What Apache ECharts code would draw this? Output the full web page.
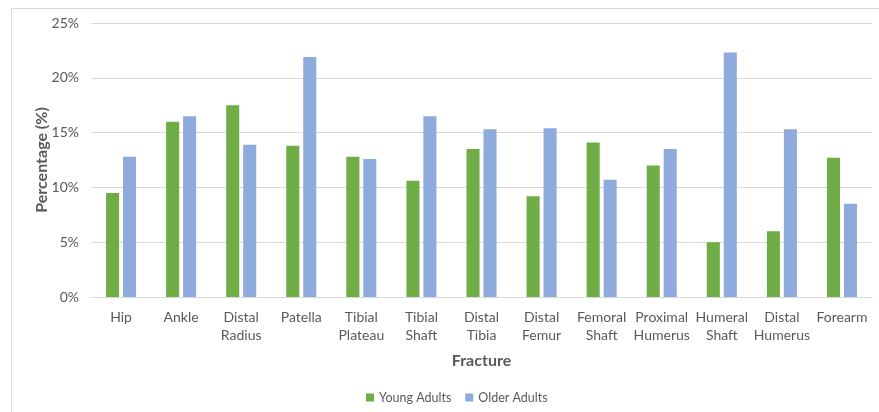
<!DOCTYPE html>
<html>
<head>
<meta charset="utf-8">
<script src="https://cdn.jsdelivr.net/npm/echarts@6/dist/echarts.min.js"></script>
<style>
html,body{margin:0;padding:0;background:#fff;}
#frame{position:absolute;left:11px;top:8px;width:880px;height:410px;border:1px solid #D9D9D9;box-sizing:border-box;}
#chart{position:absolute;left:0;top:0;width:879px;height:412px;}
</style>
</head>
<body>
<div id="frame"></div>
<div id="chart"></div>
<script>
const categories = ['Hip','Ankle','Distal\nRadius','Patella','Tibial\nPlateau','Tibial\nShaft','Distal\nTibia','Distal\nFemur','Femoral\nShaft','Proximal\nHumerus','Humeral\nShaft','Distal\nHumerus','Forearm'];
const youngAdults = [9.5, 16.0, 17.5, 13.8, 12.8, 10.6, 13.5, 9.2, 14.1, 12.0, 5.0, 6.0, 12.7];
const olderAdults = [12.8, 16.5, 13.9, 21.9, 12.6, 16.5, 15.3, 15.4, 10.7, 13.5, 22.3, 15.3, 8.5];
const yTicks = [0, 5, 10, 15, 20, 25];

const FONT = 'Lato';
const chart = echarts.init(document.getElementById('chart'));
chart.setOption({
  animation: false,
  textStyle: { fontFamily: FONT },
  grid: { left: 91, right: 7, top: 23, bottom: 115, containLabel: false },
  legend: {
    data: ['Young Adults', 'Older Adults'],
    bottom: 3,
    left: 361,
    itemWidth: 8, itemHeight: 8, itemGap: 14,
    icon: 'rect',
    textStyle: { color: '#595959', fontSize: 12.5, fontFamily: FONT }
  },
  xAxis: {
    type: 'category',
    data: categories,
    name: 'Fracture',
    nameLocation: 'middle',
    nameGap: 56,
    nameMoveOverlap: false,
    nameTextStyle: { color: '#595959', fontSize: 16, fontWeight: 'bold', fontFamily: FONT },
    axisLine: { lineStyle: { color: '#D9D9D9' } },
    axisTick: { show: false },
    axisLabel: { color: '#595959', fontSize: 14, lineHeight: 18, margin: 11, interval: 0, fontFamily: FONT }
  },
  yAxis: {
    type: 'value',
    min: yTicks[0], max: yTicks[yTicks.length - 1], interval: 5,
    name: 'Percentage (%)',
    nameLocation: 'middle',
    nameGap: 41,
    nameMoveOverlap: false,
    nameTextStyle: { color: '#595959', fontSize: 16, fontWeight: 'bold', fontFamily: FONT },
    axisLine: { show: false },
    axisTick: { show: false },
    splitLine: { lineStyle: { color: '#D9D9D9' } },
    axisLabel: { color: '#595959', fontSize: 14, margin: 12, formatter: v => v + '%', fontFamily: FONT }
  },
  series: [
    { name: 'Young Adults', type: 'bar', data: youngAdults, itemStyle: { color: '#70AD47' }, barGap: '30%', barCategoryGap: '50%' },
    { name: 'Older Adults', type: 'bar', data: olderAdults, itemStyle: { color: '#8FAADC' }, barGap: '30%', barCategoryGap: '50%' }
  ]
});
</script>
</body>
</html>
